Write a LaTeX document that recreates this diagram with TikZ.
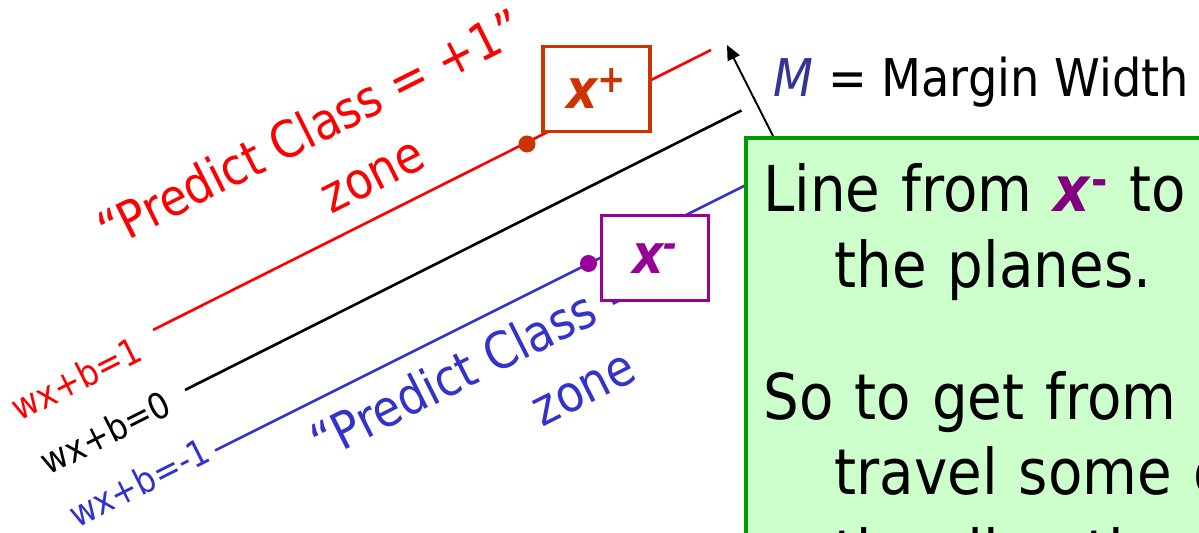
\documentclass[tikz,border=0pt]{standalone}
\usepackage{fontspec}
\setmainfont{DejaVu Sans}[FakeStretch=0.89]
\usetikzlibrary{arrows.meta,calc}

\definecolor{plusred}{HTML}{CC3300}
\definecolor{minuspurple}{HTML}{990099}
\definecolor{zoneblue}{HTML}{3333CC}
\definecolor{mblue}{HTML}{333399}
\definecolor{notegreen}{HTML}{009900}
\definecolor{notefill}{HTML}{CCFFCC}
\definecolor{xpurple}{HTML}{800080}

\begin{document}
\begin{tikzpicture}[>={Triangle[length=8.5pt,width=7.5pt]}]
\tikzstyle{planeline}=[line width=1.5pt]
\tikzstyle{eqlbl}=[rotate=26.66,anchor=base east,inner sep=0pt,font=\fontsize{20.5}{24}\selectfont]
\tikzstyle{zonetxt}=[rotate=26.66,anchor=base,inner sep=0pt,font=\fontsize{28.9}{34}\selectfont]
\tikzstyle{sv}=[circle,inner sep=0pt,minimum size=0.34cm]
\tikzstyle{xbox}=[draw,line width=1.9pt,fill=white,minimum width=2.14cm,minimum height=1.70cm,inner sep=0pt,font=\fontsize{31}{36}\selectfont\bfseries\itshape]
\useasboundingbox (0,0) rectangle (23.98,10.66);
\clip (0,0) rectangle (23.98,10.66);
\fill[white] (0,0) rectangle (23.98,10.66);

% the three planes
\coordinate (p1a) at (3.06,4.06);
\coordinate (p1b) at (14.22,9.66);
\coordinate (p0a) at (3.70,2.86);
\coordinate (p0b) at (14.83,8.45);
\coordinate (m1a) at (4.30,1.65);
\coordinate (m1b) at (16.0,7.5);
\draw[planeline,red] (p1a) -- (p1b);
\draw[planeline] (p0a) -- (p0b);
\draw[planeline,zoneblue] (m1a) -- (m1b);

\node[eqlbl,red] (l1) at (2.90,3.48) {wx+b=1};
\node[eqlbl] (l0) at (3.48,2.40) {wx+b=0};
\node[eqlbl,zoneblue] (lm1) at (4.26,1.45) {wx+b=-1};

% zones
\node[zonetxt,red] (plus) at (6.36,7.76) {“Predict Class = +1”};
\node[zonetxt,red] (pluszone) at (7.60,6.86) {zone};
\node[zonetxt,zoneblue] (minus) at (10.44,3.44) {“Predict Class = -1”};
\node[zonetxt,zoneblue] (minuszone) at (11.82,2.60) {zone};

% support vectors
\node[sv,fill=plusred] (xp) at (10.54,7.78) {};
\node[sv,fill=minuspurple] (xm) at (11.77,5.39) {};
\node[xbox,draw=plusred,text=plusred] (xpbox) at (11.93,8.884) {x\textsuperscript{+}};
\node[xbox,draw=minuspurple,text=minuspurple] (xmbox) at (13.106,5.494) {x\textsuperscript{-}};

\node[draw=notegreen,line width=2.3pt,fill=notefill,anchor=north west,text width=11cm,align=left,inner xsep=9.8pt,inner ysep=14.6pt,font=\fontsize{36}{42.9}\selectfont] (note) at (14.88,7.94) {Line from \textcolor{xpurple}{\textbf{\textit{x}\textsuperscript{-}}} to\\
\hspace*{40.5pt}the planes.\\[32.3pt]
So to get from\\
\hspace*{40.5pt}travel some d\\[3pt]
\hspace*{40.5pt}the direction};

% margin
\coordinate (mtip) at (14.54,9.76);
\draw[->,line width=1.1pt] ([xshift=0.58cm]note.north west) -- (mtip);
\node[anchor=base west,inner sep=0pt,font=\fontsize{29.6}{34}\selectfont] (mlabel) at (15.46,8.727) {\textcolor{mblue}{\textit{M}} \textit{=} Margin Width};
\end{tikzpicture}
\end{document}
